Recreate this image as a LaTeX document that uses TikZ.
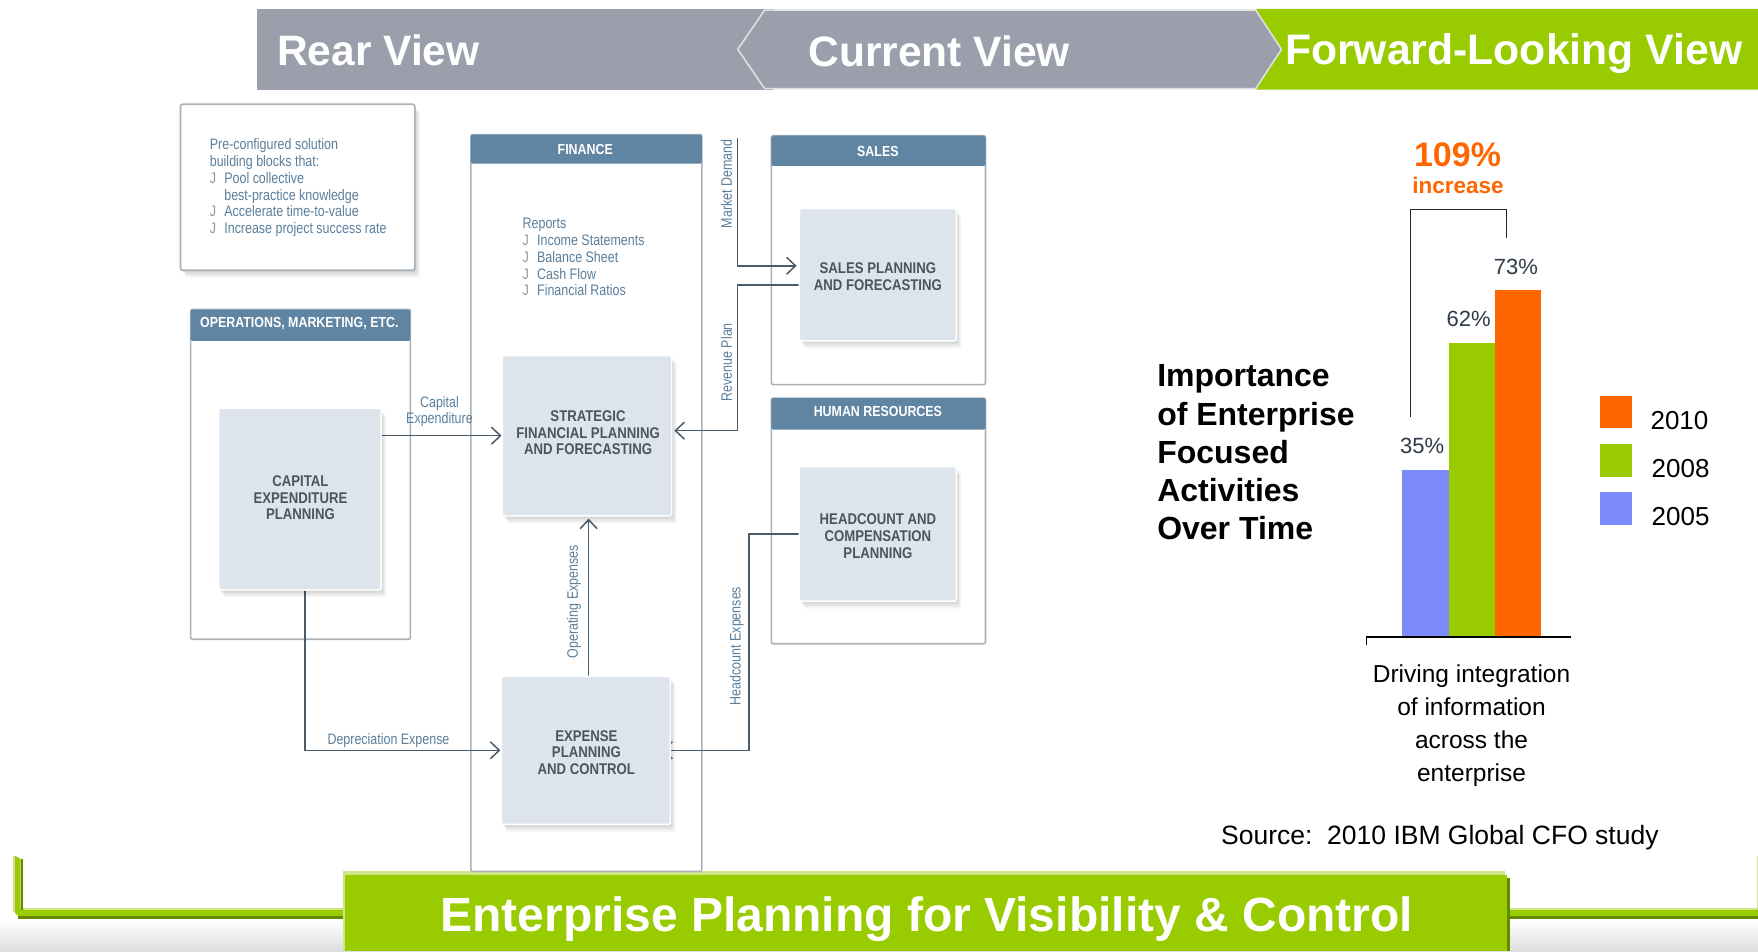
\documentclass[tikz,border=0pt]{standalone}
\usepackage{fontspec}
\usetikzlibrary{fit,shadows,arrows.meta}
\setmainfont{Liberation Sans}
\newfontfamily\nf[FakeStretch=0.82]{Liberation Sans}
\newfontfamily\nb[FakeStretch=0.85]{Liberation Sans}
\newcommand\fz[2]{\fontsize{#1}{#2}\selectfont}
\definecolor{bargrey}{HTML}{9A9FAB}
\definecolor{leaf}{HTML}{99CC00}
\definecolor{leaflight}{HTML}{CFE58A}
\definecolor{leafdark}{HTML}{668800}
\definecolor{tang}{HTML}{FF6600}
\definecolor{peri}{HTML}{7B8CFA}
\definecolor{steel}{HTML}{5F85A3}
\definecolor{inblue}{HTML}{DEE4EB}
\definecolor{edge}{HTML}{AAB2B9}
\definecolor{wirec}{HTML}{4A5C6A}
\definecolor{labc}{HTML}{5A7F9C}
\definecolor{boxtxt}{HTML}{4A5560}
\definecolor{bul}{HTML}{8A98A4}
\definecolor{numc}{HTML}{2F3A48}
\pgfdeclarelayer{top}
\pgfsetlayers{main,top}
\tikzset{
  soft/.style={
    general shadow={fill=black,fill opacity=.035,shadow xshift=1pt,shadow yshift=-1.5pt},
    general shadow={fill=black,fill opacity=.035,shadow xshift=2pt,shadow yshift=-3pt},
    general shadow={fill=black,fill opacity=.035,shadow xshift=3pt,shadow yshift=-4.5pt},
    general shadow={fill=black,fill opacity=.035,shadow xshift=4pt,shadow yshift=-6pt},
    general shadow={fill=black,fill opacity=.035,shadow xshift=5pt,shadow yshift=-7.5pt}},
  frambox/.style={draw=edge,line width=1.6pt,fill=white,rounded corners=2pt,inner sep=0pt},
  headbar/.style={fill=steel,rounded corners=1.5pt,inner sep=0pt},
  headtxt/.style={inner sep=0pt,text=white,font=\nb\bfseries\fz{14.6}{16}},
  inbox/.style={soft,fill=inblue,draw=white,line width=1.5pt,rounded corners=1.5pt,inner sep=0pt},
  intxt/.style={inner sep=0pt,text=boxtxt,align=center,font=\nb\bfseries\fz{15.5}{16.7}},
  wire/.style={draw=wirec,line width=1.5pt},
  tipped/.style={wire,-{Straight Barb[length=9pt,width=17pt,line width=1.5pt]}},
  small/.style={inner sep=0pt,text=labc,align=center,font=\nf\fz{15.2}{16.8}},
  note/.style={inner sep=0pt,text=labc,align=left,font=\nf\fz{15.2}{16.8}},
  banner/.style={inner sep=0pt,text=white,font=\bfseries\fz{42.5}{46}},
  pct/.style={inner sep=0pt,text=numc,font=\fz{22}{24}},
  yearlab/.style={inner sep=0pt,text=black,font=\fz{26}{28}},
  barstyle/.style={inner sep=0pt},
}
\newcommand\bu{\makebox[14.5pt][l]{\textcolor{bul}{J}}}
\begin{document}
\begin{tikzpicture}[x=1.12117pt,y=-1.1215pt]
\useasboundingbox (0,0) rectangle (1568,848);
\fill[white] (0,0) rectangle (1568,848);
% bottom gradient
\shade[top color=white,bottom color=black!13] (0,820) rectangle (1568,848);
% top banner
\fill[bargrey] (229,8) rectangle (690,80);
\fill[leaf] (1120,8) -- (1568,8) -- (1568,80) -- (1120,80) -- (1143,44) -- cycle;
\filldraw[fill=bargrey,draw=black!12,line width=1.6pt] (658,44) -- (682,9) -- (1120,9) -- (1143,44) -- (1120,79) -- (682,79) -- cycle;
\node[banner,anchor=west] (rear) at (247,45) {Rear View};
\node[banner,anchor=west] (curr) at (721,46) {Current View};
\node[banner,anchor=west,font=\bfseries\fz{42.7}{46}] (fwd) at (1146,48) {Forward-Looking View};
% bottom band
\fill[leaflight] (11.3,763) rectangle (13.5,813);
\fill[leaflight] (18,809.6) rectangle (307,812);
\fill[leaflight] (1345,809.6) rectangle (1568,812);
\fill[leaflight] (1566.7,763) rectangle (1568,812);
\fill[leafdark] (18.5,766) rectangle (20.3,812);
\fill[leafdark] (16,816.5) rectangle (307,819);
\fill[leafdark] (1345,816.5) rectangle (1568,819);
\fill[leaf] (13.4,763) -- (18.5,766) -- (18.5,811.6) -- (307,811.6) -- (307,816.7) -- (16,816.7) -- (13.4,814) -- cycle;
\fill[leaf] (1345,811.6) rectangle (1568,816.7);
\fill[leaflight] (305.5,777) rectangle (1342.5,781);
\fill[leaflight] (305.5,777) rectangle (308,848);
\fill[leafdark] (1344,783) rectangle (1347,848);
\node[fit={(308,780)(1344.5,848)},fill=leaf,inner sep=0pt] (band) {};
\node[banner,font=\bfseries\fz{48}{50}] (bandtxt) at (826.5,820) {Enterprise Planning for Visibility \& Control};
% note
\node[frambox,soft,fit={(161,93)(370,241)}] (notebox) {};
\node[note,anchor=north west] (notetxt) at (187,123.5) {Pre-configured solution\\building blocks that:\\\bu Pool collective\\\hspace*{14.5pt}best-practice knowledge\\\bu Accelerate time-to-value\\\bu Increase project success rate};
% frames
\node[frambox,fit={(420,120)(626,777)}] (finf) {};
\node[frambox,fit={(688,121)(879,343)}] (salf) {};
\node[frambox,fit={(688,355)(879,574)}] (hrf) {};
\node[frambox,fit={(170,276)(366,570)}] (opf) {};
\node[headbar,fit={(420,120)(626,146)}] (finh) {};
\node[headbar,fit={(688,121)(879,148)}] (salh) {};
\node[headbar,fit={(688,355)(879,383)}] (hrh) {};
\node[headbar,fit={(170,276)(366,304)}] (oph) {};
\node[headtxt] (fint) at (522,133) {FINANCE};
\node[headtxt] (salt) at (783,135) {SALES};
\node[headtxt] (hrt) at (783,367) {HUMAN RESOURCES};
\node[headtxt] (opt) at (267,288.5) {OPERATIONS, MARKETING, ETC.};
\node[note,anchor=north west] (rep) at (466,194.5) {Reports\\\bu Income Statements\\\bu Balance Sheet\\\bu Cash Flow\\\bu Financial Ratios};
% inner boxes
\begin{pgfonlayer}{top}
\node[inbox,fit={(448,317)(599,460)}] (strat) {};
\node[inbox,fit={(195,364)(340,526)}] (capex) {};
\node[inbox,fit={(447,603)(598,735)}] (expn) {};
\node[inbox,fit={(713,186)(853,304)}] (sales) {};
\node[inbox,fit={(713,416)(853,536)}] (hc) {};
\node[intxt] (stratt) at (524.5,386) {STRATEGIC\\FINANCIAL PLANNING\\AND FORECASTING};
\node[intxt] (capext) at (268,444) {CAPITAL\\EXPENDITURE\\PLANNING};
\node[intxt] (expnt) at (523,671) {EXPENSE\\PLANNING\\AND CONTROL};
\node[intxt] (salest) at (783,246.5) {SALES PLANNING\\AND FORECASTING};
\node[intxt] (hct) at (783,478) {HEADCOUNT AND\\COMPENSATION\\PLANNING};
\end{pgfonlayer}
% connectors
\coordinate (downx) at (272,668);
\coordinate (opx) at (525,500);
\coordinate (hcx) at (668,500);
\coordinate (rvx) at (658,300);
\coordinate (rvS) at (0,254);
\coordinate (rvE) at (0,384);
\coordinate (mdT) at (658,123);
\coordinate (mdE) at (0,237);
\draw[tipped] (capex.east |- strat.west) -- (strat.west);
\draw[tipped] (downx |- capex.south) -- (downx |- expn.west) -- (expn.west);
\draw[tipped,shorten >=2pt] (opx |- expn.north) -- (opx |- strat.south);
\draw[tipped,shorten >=-9pt] (hc.west) -- (hcx |- hc.west) -- (hcx |- expn.east) -- (expn.east);
\draw[tipped,shorten >=2pt] (sales.west |- rvS) -- (rvx |- rvS) -- (rvx |- rvE) -- (strat.east |- rvE);
\draw[tipped,shorten >=2pt] (mdT) -- (mdT |- mdE) -- (sales.west |- mdE);
% connector labels
\node[small] (l1) at (392,367) {Capital\\Expenditure};
\node[small] (l2) at (346.5,660.5) {Depreciation Expense};
\node[small,rotate=90] (l3) at (648,164) {Market Demand};
\node[small,rotate=90] (l4) at (648,323) {Revenue Plan};
\node[small,rotate=90] (l5) at (512,536.5) {Operating Expenses};
\node[small,rotate=90] (l6) at (657,576) {Headcount Expenses};
% chart
\node[fit={(1250.5,419)(1292,568)},fill=peri,barstyle] (b5) {};
\node[fit={(1292,306)(1333,568)},fill=leaf,barstyle] (b8) {};
\node[fit={(1333,259)(1374,568)},fill=tang,barstyle] (b10) {};
\coordinate (axl) at (1219,568);
\coordinate (axr) at (1401,568);
\coordinate (axt) at (1219,575);
\draw[black,line width=1.3pt] (axt) -- (axl) -- (axr);
\coordinate (brl) at (1258,372);
\coordinate (brt) at (1258,187);
\coordinate (brr) at (1344,187);
\coordinate (bre) at (1344,212);
\draw[black!85,line width=1.2pt] (brl) -- (brt) -- (brr) -- (bre);
\node[inner sep=0pt,text=tang,font=\bfseries\fz{34}{36}] (pc) at (1300,138) {109\%};
\node[inner sep=0pt,text=tang,font=\bfseries\fz{22.5}{24}] (inc) at (1300.5,165.5) {increase};
\node[pct] (p5) at (1268.5,398) {35\%};
\node[pct] (p8) at (1310,284) {62\%};
\node[pct] (p10) at (1352,238) {73\%};
\node[fit={(1427,353)(1456,382)},fill=tang,barstyle] (k10) {};
\node[fit={(1427,396)(1456,425)},fill=leaf,barstyle] (k8) {};
\node[fit={(1427,439)(1456,468)},fill=peri,barstyle] (k5) {};
\node[yearlab,anchor=west] (y10) at (1472,375) {2010};
\node[yearlab,anchor=west] (y8) at (1473,417.5) {2008};
\node[yearlab,anchor=west] (y5) at (1473,461) {2005};
\node[inner sep=0pt,anchor=west,align=left,font=\bfseries\fz{32}{38.3}] (ttl) at (1032,403.5) {Importance\\of Enterprise\\Focused\\Activities\\Over Time};
\node[inner sep=0pt,align=center,font=\fz{24.5}{32.8}] (drv) at (1312.5,647) {Driving integration\\of information\\across the\\enterprise};
\node[inner sep=0pt,anchor=west,font=\fz{26.5}{28}] (src) at (1089,747) {Source:\ \ 2010 IBM Global CFO study};
\end{tikzpicture}
\end{document}
